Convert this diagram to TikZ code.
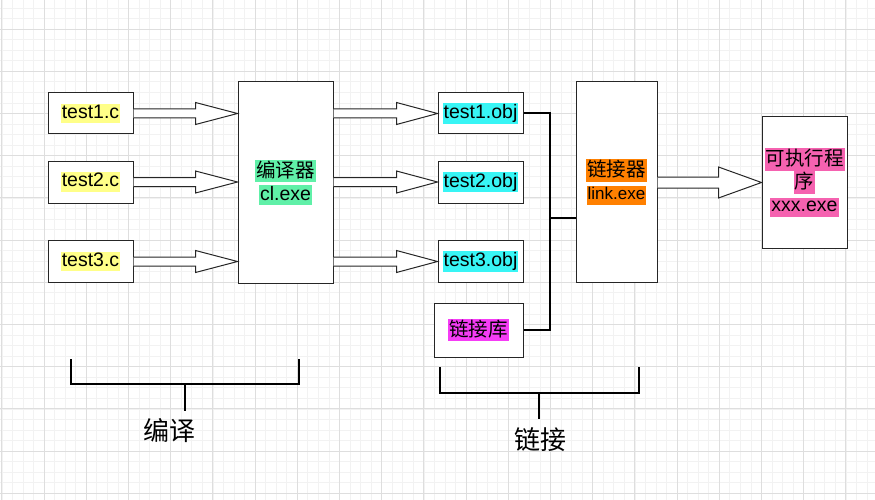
\documentclass[tikz,border=0pt]{standalone}
\usepackage{fontspec}
\setmainfont{Liberation Sans}
\newfontfamily\cjk{Noto Sans CJK SC}
\usetikzlibrary{calc}

\definecolor{hlyellow}{HTML}{FFFF88}
\definecolor{hlgreen}{HTML}{60F0A8}
\definecolor{hlcyan}{HTML}{38F5F5}
\definecolor{hlmagenta}{HTML}{F53CF5}
\definecolor{hlorange}{HTML}{FF8000}
\definecolor{hlpink}{HTML}{F562B0}

% label with a coloured background, one line
\newcommand\hl[2]{{\setlength\fboxsep{1pt}\colorbox{#1}{\rule[-4pt]{0pt}{17pt}#2}}}

% hollow arrow: from, to, shaft half width, head half width, head length
\newcommand\FlexArrow[5]{%
  \draw[flex] let \p1=#1, \p2=#2 in
    (\x1,\y1+#3pt) -- (\x2-#5pt,\y1+#3pt) -- (\x2-#5pt,\y1+#4pt) -- (\x2,\y1)
    -- (\x2-#5pt,\y1-#4pt) -- (\x2-#5pt,\y1-#3pt) -- (\x1,\y1-#3pt);
}

\begin{document}
\begin{tikzpicture}[x=1pt,y=-1pt,
  box/.style={draw=black!85, line width=1pt, fill=white, inner sep=0pt,
    align=center, font=\fontsize{19.5}{23}\selectfont},
  flex/.style={draw=black!85, line width=1pt, fill=white, line join=miter},
  bus/.style={line width=2pt},
  brace/.style={line width=2pt},
  caption/.style={font=\cjk\fontsize{26}{26}\selectfont},
  gridminor/.style={draw=black!5, line width=0.6pt},
  gridmajor/.style={draw=black!13, line width=0.8pt}]
\useasboundingbox[fill=white] (0,0) rectangle (875,500);

% background grid
\foreach \i in {0,...,83}
  \draw[gridminor] (1.8+10.55*\i,0) -- (1.8+10.55*\i,500);
\foreach \j in {0,...,46}
  \draw[gridminor] (0,7.9+10.55*\j) -- (875,7.9+10.55*\j);
\foreach \i in {0,...,20}
  \draw[gridmajor] (1.8+42.2*\i,0) -- (1.8+42.2*\i,500);
\foreach \j in {0,...,11}
  \draw[gridmajor] (0,29+42.2*\j) -- (875,29+42.2*\j);

% sources
\node[box, minimum width=85, minimum height=41] (c1) at (90.5,113.5) {\hl{hlyellow}{test1.c}};
\node[box, minimum width=85, minimum height=42] (c2) at (90.5,182) {\hl{hlyellow}{test2.c}};
\node[box, minimum width=85, minimum height=42] (c3) at (90.5,261.5) {\hl{hlyellow}{test3.c}};

% compiler
\node[box, minimum width=95, minimum height=201] (cl) at (285.5,182.5)
  {\hl{hlgreen}{\cjk 编译器}\\\hl{hlgreen}{cl.exe}};

% objects
\node[box, minimum width=85, minimum height=41] (o1) at (480.5,113.5) {\hl{hlcyan}{test1.obj}};
\node[box, minimum width=85, minimum height=42] (o2) at (480.5,182) {\hl{hlcyan}{test2.obj}};
\node[box, minimum width=85, minimum height=42] (o3) at (480.5,261.5) {\hl{hlcyan}{test3.obj}};
\node[box, minimum width=89, minimum height=54] (lib) at (478.5,330) {\hl{hlmagenta}{\cjk 链接库}};

% linker and result
\node[box, minimum width=81, minimum height=200] (linker) at (616.5,182)
  {\hl{hlorange}{\cjk 链接器}\\\hl{hlorange}{\fontsize{17}{23}\selectfont link.exe}};
\node[box, minimum width=85, minimum height=131] (exe) at (804.5,182.5)
  {\hl{hlpink}{\cjk 可执行程}\\\hl{hlpink}{\cjk 序}\\\hl{hlpink}{xxx.exe}};

% arrows
\FlexArrow{(c1.east)}{(c1.east -| cl.west)}{4.5}{11}{42}
\FlexArrow{(c2.east)}{(c2.east -| cl.west)}{4.5}{11}{42}
\FlexArrow{(c3.east)}{(c3.east -| cl.west)}{4.5}{11}{42}
\FlexArrow{(cl.east |- o1.west)}{(o1.west)}{4.5}{11}{41}
\FlexArrow{(cl.east |- o2.west)}{(o2.west)}{4.5}{11}{41}
\FlexArrow{(cl.east |- o3.west)}{(o3.west)}{4.5}{11}{41}
\FlexArrow{(linker.east |- exe.west)}{(exe.west)}{5.5}{15.5}{43}

% bus to linker
\coordinate (bt) at ($(o1.east)+(26,0)$);
\coordinate (bj) at (549,218);
\draw[bus] (o1.east) -- (bt) |- (lib.east);
\draw[bus] (bj) -- (bj -| linker.west);

% brackets
\node[caption] (tc) at (169,431) {编译};
\node[caption] (tl) at (540,440) {链接};
\coordinate (bc) at (185,384);
\coordinate (bl) at (539,393);
\draw[brace] (71,359) |- (299,384) -- (299,359);
\draw[brace] (bc) -- ++(0,27);
\draw[brace] (440,367) |- (639,393) -- (639,367);
\draw[brace] (bl) -- ++(0,26);
\end{tikzpicture}
\end{document}
